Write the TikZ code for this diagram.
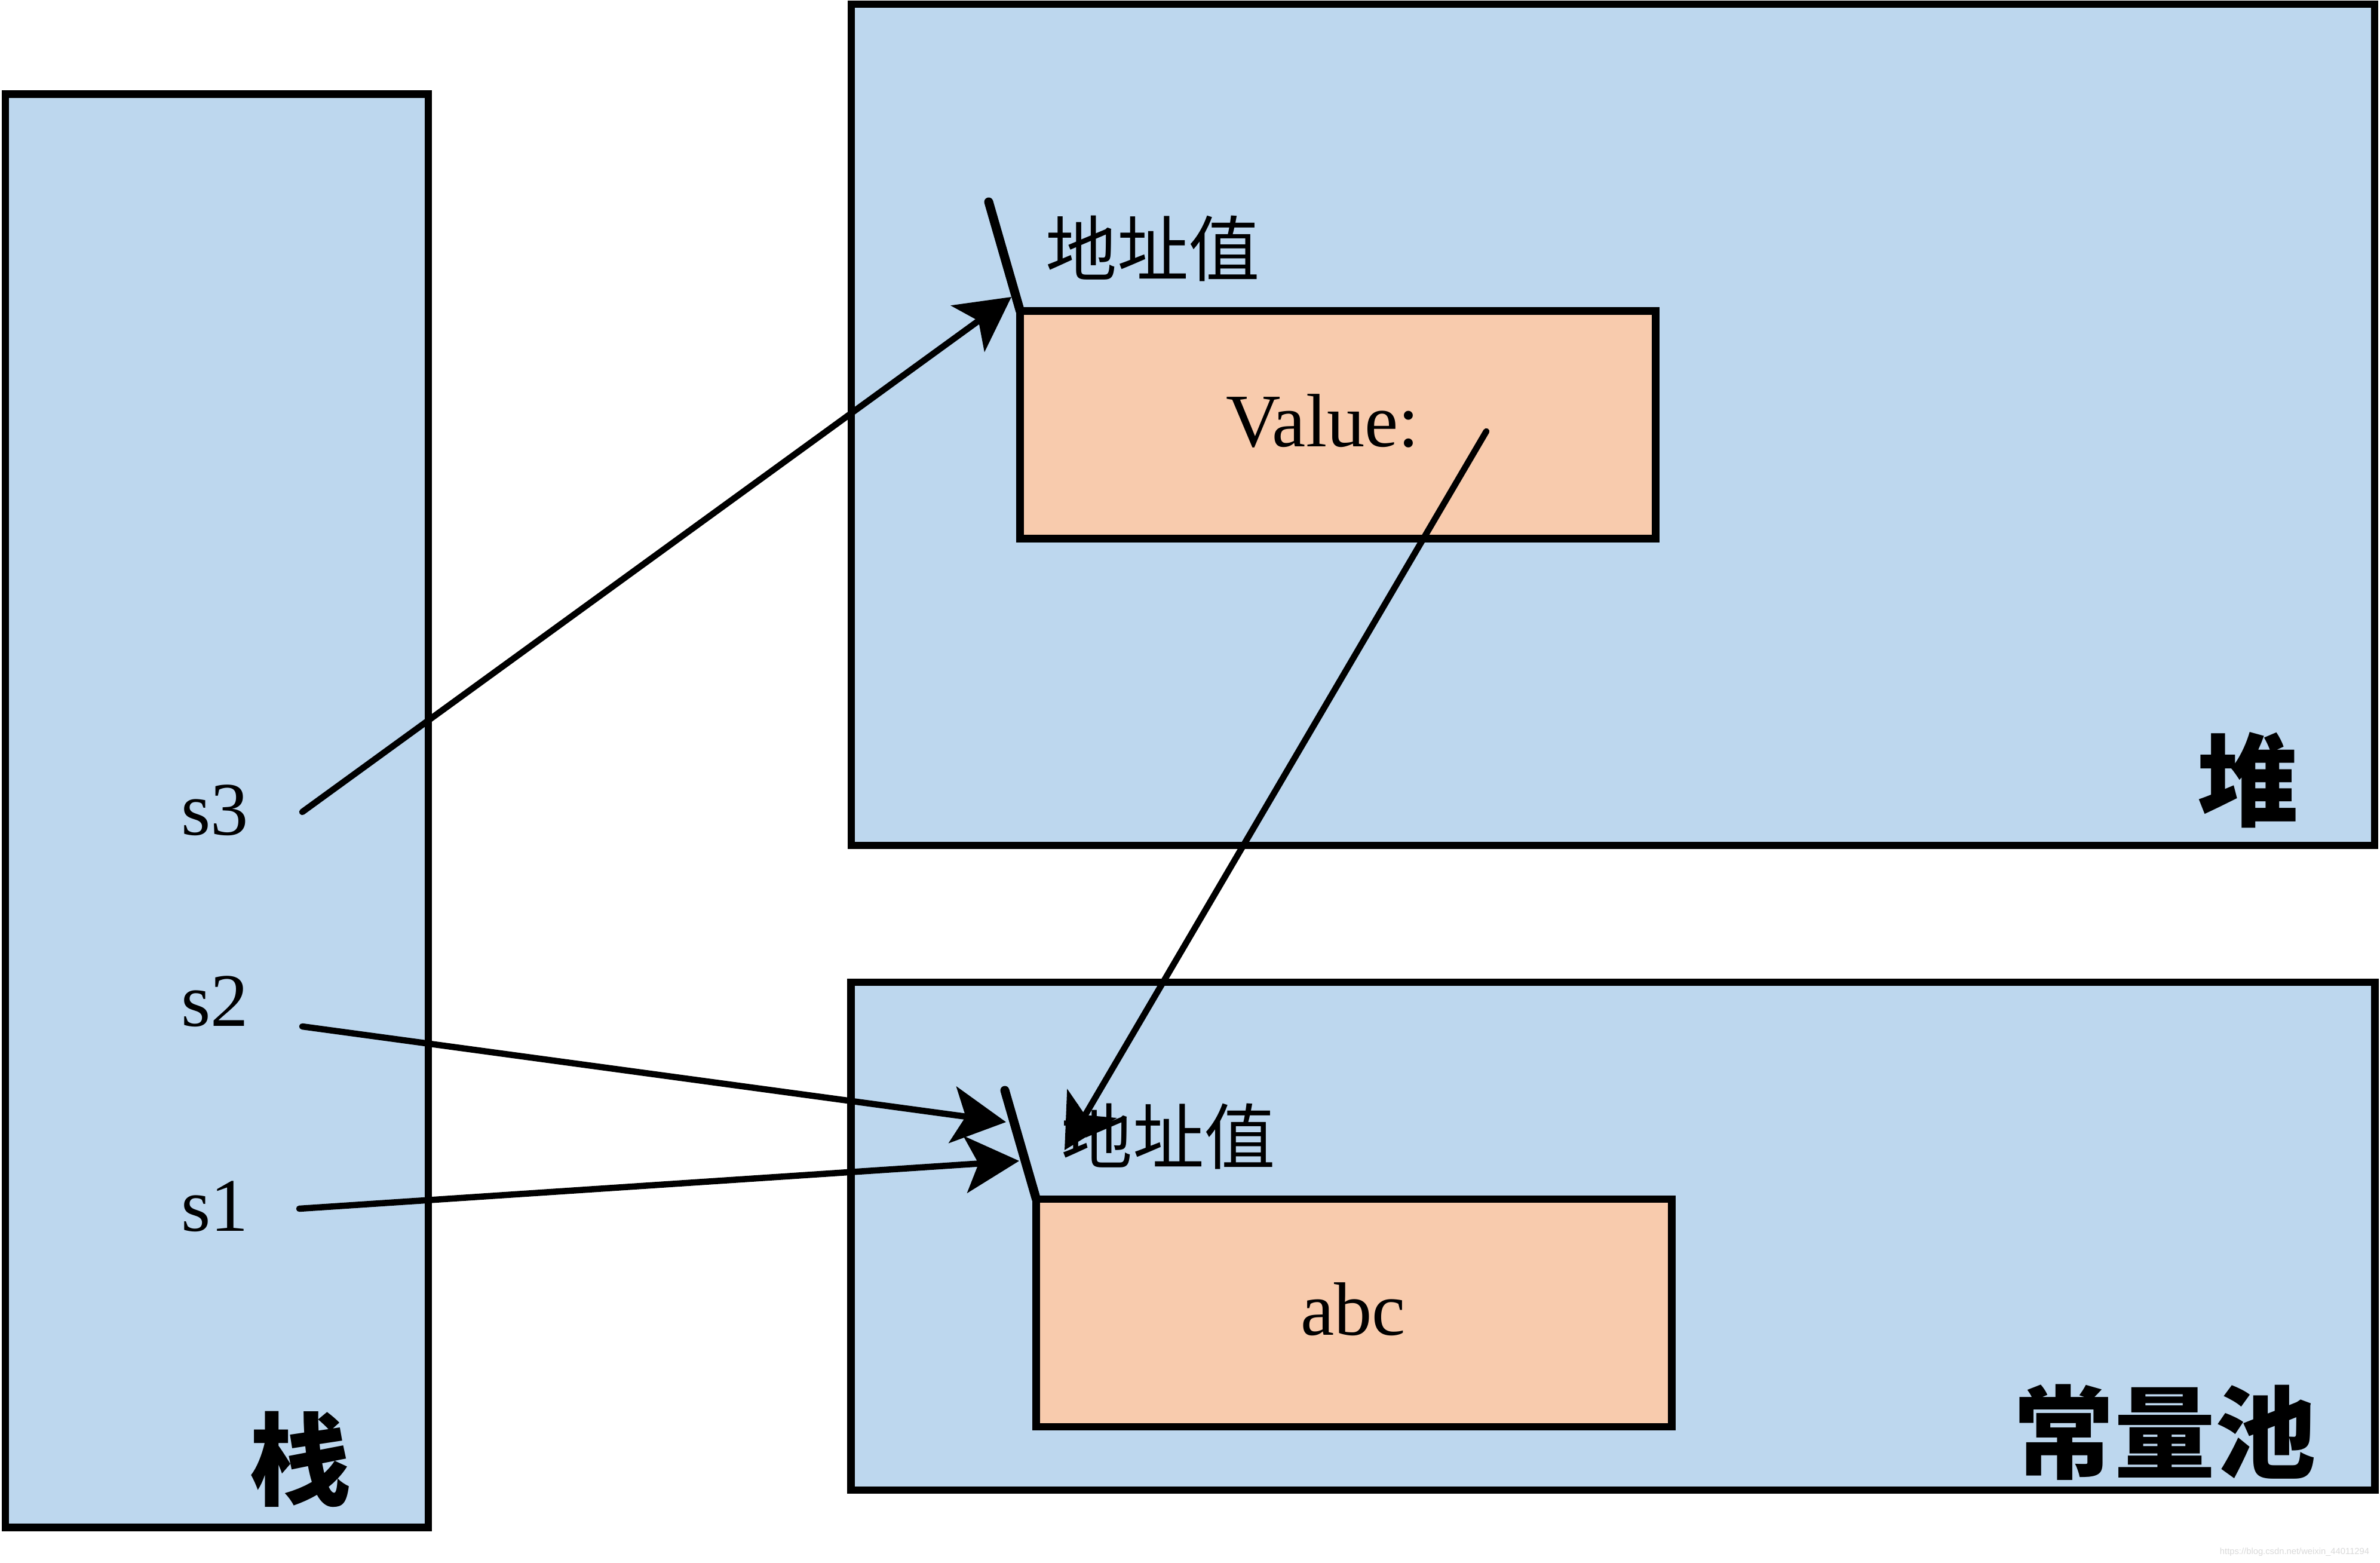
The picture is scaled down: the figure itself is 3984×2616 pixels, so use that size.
\documentclass[tikz,border=0pt]{standalone}
\usepackage{fontspec}
\setmainfont{Liberation Serif}
\newfontfamily\cjk{Noto Sans CJK SC}
\newfontfamily\wmfont{Liberation Sans}
\usetikzlibrary{arrows.meta}
\definecolor{memblue}{HTML}{BDD7EE}
\definecolor{cellpeach}{HTML}{F8CBAD}

\begin{document}
\begin{tikzpicture}[x=0.01cm,y=-0.01cm,
  region/.style={rectangle, draw=black, fill=memblue, line width=0.125cm, inner sep=0pt, outer sep=0pt},
  cell/.style={rectangle, draw=black, fill=cellpeach, line width=0.125cm, inner sep=0pt, outer sep=0pt,
               minimum width=10.63cm, minimum height=3.805cm},
  ptr/.style={line width=0.105cm, line cap=round, -{Stealth[length=0.9cm,width=0.95cm,inset=0.22cm]}},
  addrtick/.style={line width=0.15cm, line cap=round},
  latin/.style={font=\fontsize{36}{40}\selectfont, inner sep=0pt},
  addr/.style={font=\cjk\fontsize{34}{38}\selectfont, inner sep=0pt},
  title/.style={font=\cjk\bfseries\fontsize{48}{52}\selectfont, inner sep=0pt}]

\useasboundingbox (0,0) rectangle (3984,2616);

% memory regions
\node[region, minimum width=7.075cm, minimum height=23.98cm] (stack) at (363,1357) {};
\node[region, minimum width=25.485cm, minimum height=14.075cm] (heap) at (2700,711) {};
\node[region, minimum width=25.495cm, minimum height=8.495cm] (pool) at (2700,2069) {};

% object cells
\node[cell] (valcell) at (2239.5,711) {};
\node[cell] (abccell) at (2266.5,2197.5) {};

% texts
\node[latin, anchor=base] (s3) at (360,1397) {s3};
\node[latin, anchor=base] (s2) at (360,1717) {s2};
\node[latin, anchor=base] (s1) at (360,2060) {s1};
\node[latin, anchor=base] (valtxt) at (2214,748) {Value:};
\node[latin, anchor=base] (abctxt) at (2265,2234) {abc};
\node[addr] (addrtop) at (1930,416) {地址值};
\node[addr] (addrbot) at (1956,1902) {地址值};
\node[title] (stacklbl) at (503,2442) {栈};
\node[title] (heaplbl) at (3763,1306) {堆};
\node[title] (poollbl) at (3624,2397) {常量池};

% address ticks at the cell corners
\coordinate (toptick) at (1655,338);
\coordinate (bottick) at (1682,1825);
\draw[addrtick] (toptick) -- (valcell.north west);
\draw[addrtick] (bottick) -- (abccell.north west);

% reference arrows
\coordinate (s3out) at (506,1359);
\coordinate (s2out) at (506,1718);
\coordinate (s1out) at (501,2023);
\coordinate (valout) at (2488,722);
\coordinate (hittop) at (1693,497);
\coordinate (hits2) at (1684,1878);
\coordinate (hits1) at (1706,1943);
\coordinate (hitval) at (1782,1925);

\draw[ptr] (s3out) -- (hittop);
\draw[ptr] (s2out) -- (hits2);
\draw[ptr] (s1out) -- (hits1);
\draw[ptr] (valout) -- (hitval);

\node[font=\wmfont\fontsize{4.2}{5}\selectfont, text=black!15, inner sep=0pt] (wm) at (3841,2598)
  {https://blog.csdn.net/weixin\_44011294};
\end{tikzpicture}
\end{document}
